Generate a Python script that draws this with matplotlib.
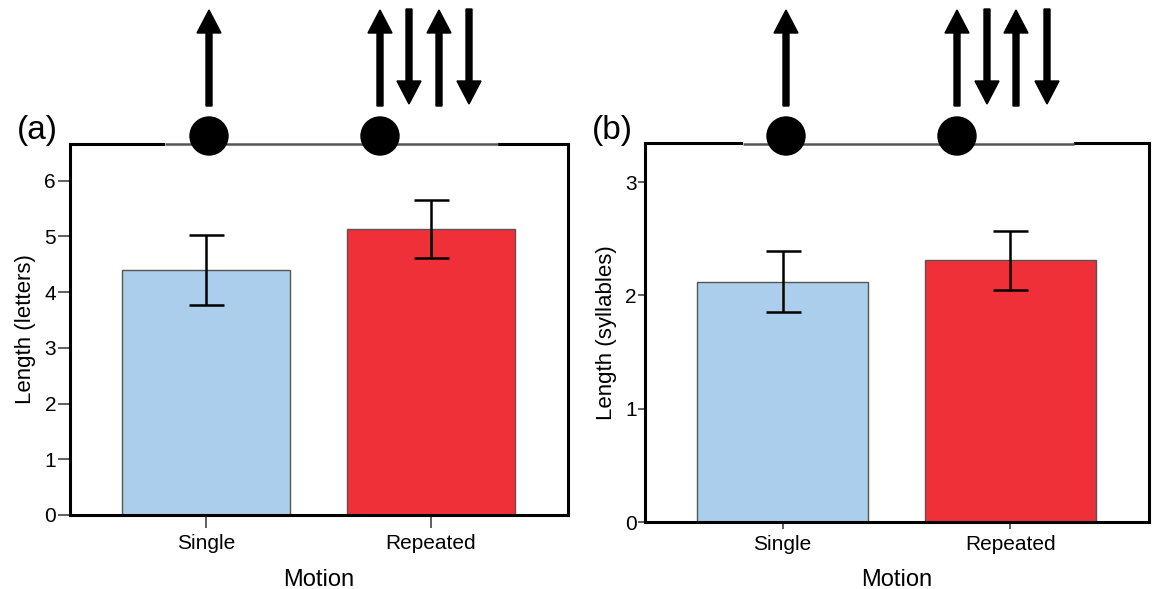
import numpy as np
import matplotlib.pyplot as plt
from matplotlib.patches import Circle

plt.rcParams['font.family'] = ['Liberation Sans', 'DejaVu Sans']

# data
categories = ['Single', 'Repeated']
letters_mean = [4.40, 5.13]
letters_err = [0.63, 0.52]
syllables_mean = [2.12, 2.31]
syllables_err = [0.27, 0.26]

bar_colors = ['#abceec', '#ef3039']

W, H = 1152, 589
fig = plt.figure(figsize=(W / 100, H / 100), dpi=100)


def px_axes(left, top, right, bottom):
    # axes placed with pixel edges
    return fig.add_axes([left / W, 1 - bottom / H, (right - left) / W, (bottom - top) / H])


def bar_panel(ax, means, errs, ylabel, ymax, yticks, ticklen, tickpad):
    x = np.arange(len(categories))
    ax.bar(x, means, width=0.75, color=bar_colors, edgecolor='#555555', linewidth=1.0, zorder=2)
    ax.errorbar(x, means, yerr=errs, fmt='none', ecolor='black', elinewidth=1.8,
                capsize=12.6, capthick=1.8, zorder=3)
    ax.set_xlim(-0.605, 1.61)
    ax.set_ylim(0, ymax)
    ax.set_yticks(yticks)
    ax.set_xticks(x)
    ax.set_xticklabels(categories)
    for s in ax.spines.values():
        s.set_linewidth(2.2)
        s.set_color('black')
    ax.tick_params(axis='y', direction='out', length=ticklen, width=1.2, color='#444444',
                   labelsize=15, pad=1)
    ax.tick_params(axis='x', direction='out', length=ticklen, width=1.2, color='#444444',
                   labelsize=15, pad=tickpad)
    ax.set_ylabel(ylabel, fontsize=16, labelpad=6)
    ax.set_xlabel('Motion', fontsize=17, labelpad=11)


ax_a = px_axes(70, 144, 568, 515)
bar_panel(ax_a, letters_mean, letters_err, 'Length (letters)', 6.66, range(0, 7), 9, 5)

ax_b = px_axes(645, 143, 1149, 522)
bar_panel(ax_b, syllables_mean, syllables_err, 'Length (syllables)', 3.345, range(0, 4), 5, 4)

# overlay in pixel coordinates for the motion pictograms
ov = fig.add_axes([0, 0, 1, 1])
ov.set_xlim(0, W)
ov.set_ylim(H, 0)
ov.axis('off')


def pictogram(line_x0, line_x1, c1, c2, arrows, label, label_x):
    ov.plot([line_x0, line_x1], [143.5, 143.5], color='white', lw=3.2, solid_capstyle='butt')
    ov.plot([line_x0, line_x1], [143.5, 143.5], color='#555555', lw=1.8, solid_capstyle='butt')
    for cx in (c1, c2):
        ov.add_patch(Circle((cx, 136), 19, color='black', zorder=5))
    for ax_x, up in arrows:
        if up:
            ov.arrow(ax_x, 106, 0, -96, width=6, head_width=24, head_length=23,
                     length_includes_head=True, color='black')
        else:
            ov.arrow(ax_x, 9, 0, 95, width=6, head_width=24, head_length=23,
                     length_includes_head=True, color='black')
    ov.text(label_x, 131, label, fontsize=24, ha='center', va='center')


pictogram(165, 498, 209, 380,
          [(209, True), (380, True), (409, False), (439, True), (469, False)], '(a)', 37)
pictogram(743, 1074, 786, 957,
          [(786, True), (957, True), (987, False), (1016, True), (1047, False)], '(b)', 612)

fig.savefig('out.png', dpi=100)
